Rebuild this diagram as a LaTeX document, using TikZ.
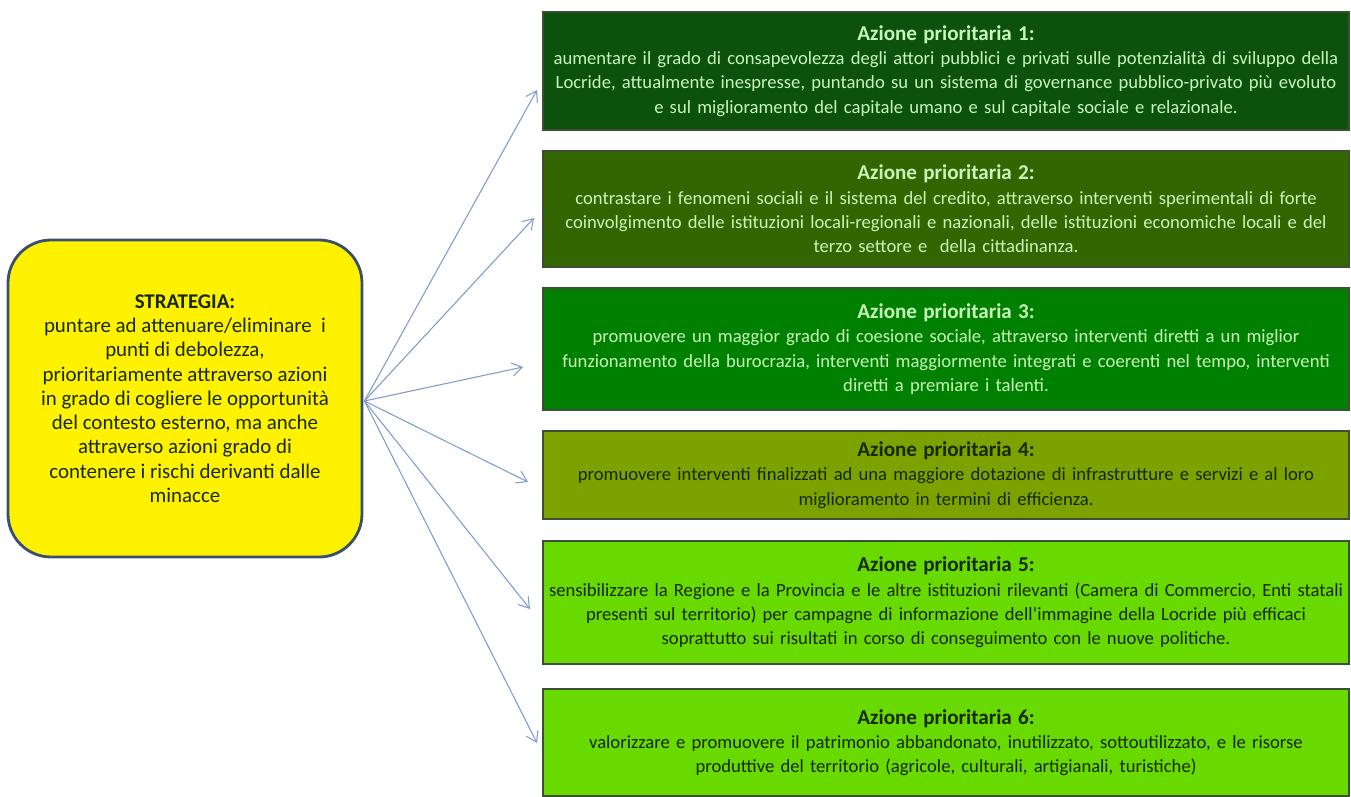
\documentclass[tikz,border=0pt]{standalone}
\usepackage{fontspec}
\setmainfont{Carlito}
\usepackage{tikz}
\usetikzlibrary{arrows.meta}
\definecolor{verde1}{RGB}{12,82,14}
\definecolor{verde2}{RGB}{51,102,0}
\definecolor{verde3}{RGB}{0,128,0}
\definecolor{verde4}{RGB}{124,162,0}
\definecolor{verde5}{RGB}{104,218,0}
\definecolor{testochiaro}{RGB}{200,245,185}
\definecolor{testoscuro}{RGB}{22,40,0}
\definecolor{freccia}{RGB}{125,155,205}
\definecolor{bordo}{RGB}{56,80,110}
\newcommand{\titolo}[1]{{\fontsize{12}{14.5}\selectfont\textbf{#1}}}
\tikzset{azione/.style={draw={rgb,255:red,60;green,80;blue,50},line width=0.8pt,
    minimum width=16.12cm,text width=16.1cm,align=center,inner sep=0pt,
    font=\fontsize{10.6}{13.8}\selectfont},
  strategia/.style={draw=bordo,line width=1.6pt,fill=yellow,rounded corners=0.86cm,
    minimum width=7.08cm,minimum height=6.34cm,align=center,text=testoscuro,
    font=\fontsize{11.9}{13.8}\selectfont},
  freccia/.style={draw=freccia,line width=0.6pt,-{Straight Barb[length=2mm,width=2.6mm]}}}

\begin{document}
\begin{tikzpicture}
\useasboundingbox (0,0) rectangle (27.02,15.92);
\node[strategia] (strat) at (3.70,7.95) {\textbf{STRATEGIA:}\\
  puntare ad attenuare/eliminare\ \ i\\ punti di debolezza,\\
  prioritariamente attraverso azioni\\ in grado di cogliere le opportunità\\
  del contesto esterno, ma anche\\ attraverso azioni grado di\\
  contenere i rischi derivanti dalle\\ minacce};

\node[azione,fill=verde1,text=testochiaro,minimum height=2.36cm] (a1) at (18.92,14.50)
  {\titolo{Azione prioritaria 1:}\\
  aumentare il grado di consapevolezza degli attori pubblici e privati sulle potenzialità di sviluppo della\\
  Locride, attualmente inespresse, puntando su un sistema di governance pubblico-privato più evoluto\\
  e sul miglioramento del capitale umano e sul capitale sociale e relazionale.};
\node[azione,fill=verde2,text=testochiaro,minimum height=2.32cm] (a2) at (18.92,11.74)
  {\titolo{Azione prioritaria 2:}\\
  contrastare i fenomeni sociali e il sistema del credito, attraverso interventi sperimentali di forte\\
  coinvolgimento delle istituzioni locali-regionali e nazionali, delle istituzioni economiche locali e del\\
  terzo settore e\ \ della cittadinanza.};
\node[azione,fill=verde3,text=testochiaro,minimum height=2.44cm] (a3) at (18.92,8.94)
  {\titolo{Azione prioritaria 3:}\\
  promuovere un maggior grado di coesione sociale, attraverso interventi diretti a un miglior\\
  funzionamento della burocrazia, interventi maggiormente integrati e coerenti nel tempo, interventi\\
  diretti a premiare i talenti.};
\node[azione,fill=verde4,text=testoscuro,minimum height=1.76cm] (a4) at (18.92,6.42)
  {\titolo{Azione prioritaria 4:}\\
  promuovere interventi finalizzati ad una maggiore dotazione di infrastrutture e servizi e al loro\\
  miglioramento in termini di efficienza.};
\node[azione,fill=verde5,text=testoscuro,minimum height=2.46cm] (a5) at (18.92,3.87)
  {\titolo{Azione prioritaria 5:}\\
  sensibilizzare la Regione e la Provincia e le altre istituzioni rilevanti (Camera di Commercio, Enti statali\\
  presenti sul territorio) per campagne di informazione dell'immagine della Locride più efficaci\\
  soprattutto sui risultati in corso di conseguimento con le nuove politiche.};
\node[azione,fill=verde5,text=testoscuro,minimum height=2.14cm] (a6) at (18.92,1.07)
  {\titolo{Azione prioritaria 6:}\\
  valorizzare e promuovere il patrimonio abbandonato, inutilizzato, sottoutilizzato, e le risorse\\
  produttive del territorio (agricole, culturali, artigianali, turistiche)};

% punte delle frecce
\coordinate (p1) at (10.74,14.12);
\coordinate (p2) at (10.68,11.56);
\coordinate (p3) at (10.46,8.58);
\coordinate (p4) at (10.56,6.28);
\coordinate (p5) at (10.60,3.74);
\coordinate (p6) at (10.74,1.06);
\foreach \i in {1,...,6}
  \draw[freccia] ([shift={(0.02,-0.05)}]strat.east) -- (p\i);
\end{tikzpicture}
\end{document}
